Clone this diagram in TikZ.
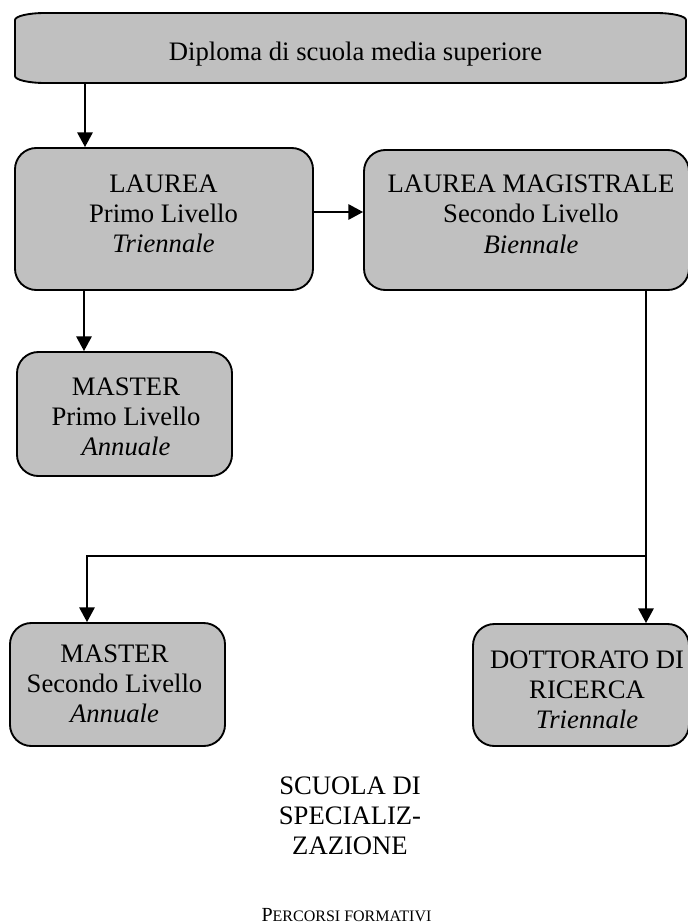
\documentclass[tikz,border=0pt]{standalone}
\usepackage{fontspec}
\setmainfont{Liberation Serif}
\usetikzlibrary{arrows.meta}
\definecolor{boxgray}{HTML}{C0C0C0}
\newcommand{\lines}[1]{\begin{tabular}[t]{@{}c@{}}#1\end{tabular}}
\tikzset{
  box/.style={draw=black, line width=1.4pt, fill=boxgray, rounded corners=16pt,
    inner sep=0pt},
  txt/.style={anchor=base, inner sep=0pt,
    font=\fontsize{20}{22.8}\selectfont},
  arr/.style={line width=1.4pt, -{Triangle[length=11pt,width=11.5pt]}},
  ln/.style={line width=1.4pt},
}
\begin{document}
\begin{tikzpicture}[x=0.75pt,y=-0.75pt]
\useasboundingbox (0,0) rectangle (688,924);
% top box with flat elliptical corners
\node[inner sep=0pt, minimum width=503.25pt, minimum height=52.5pt] (top) at (350.5,48) {};
\draw[line width=1.4pt, fill=boxgray]
  (45,13) -- (656,13) arc[start angle=90, end angle=0, x radius=22.5pt, y radius=5.25pt]
  -- (686,76) arc[start angle=0, end angle=-90, x radius=22.5pt, y radius=5.25pt]
  -- (45,83) arc[start angle=270, end angle=180, x radius=22.5pt, y radius=5.25pt]
  -- (15,20) arc[start angle=180, end angle=90, x radius=22.5pt, y radius=5.25pt]
  -- cycle;
\node[txt] (topt) at (355.5,61) {Diploma di scuola media superiore};
\node[box, minimum width=223.5pt, minimum height=106.5pt] (laurea) at (164,219) {};
\node[txt] (laureat) at (163.5,192) {\lines{LAUREA\\Primo Livello\\\textit{Triennale}}};
\node[box, minimum width=243.75pt, minimum height=105pt] (lm) at (526.5,220) {};
\node[txt] (lmt) at (531,192.5) {\lines{LAUREA MAGISTRALE\\Secondo Livello\\\textit{Biennale}}};
\node[box, minimum width=161.25pt, minimum height=93pt] (m1) at (124.5,414) {};
\node[txt] (m1t) at (126,395) {\lines{MASTER\\Primo Livello\\\textit{Annuale}}};
\node[box, minimum width=161.25pt, minimum height=92.25pt] (m2) at (117.5,684.5) {};
\node[txt] (m2t) at (114.5,662) {\lines{MASTER\\Secondo Livello\\\textit{Annuale}}};
\node[box, minimum width=162pt, minimum height=91.5pt] (dott) at (581,685) {};
\node[txt] (dottt) at (587,668) {\lines{DOTTORATO DI\\RICERCA\\\textit{Triennale}}};
\node[txt] (scuola) at (350,794) {\lines{SCUOLA DI\\SPECIALIZ-\\ZAZIONE}};
\node[anchor=base, inner sep=0pt] (perc) at (346.5,921) {{\fontsize{15}{18}\selectfont P}{\fontsize{12}{18}\selectfont ERCORSI FORMATIVI}};
\coordinate (c1) at (85,0);
\coordinate (c2) at (0,212);
\coordinate (c3) at (84,0);
\coordinate (j) at (646,556);
\coordinate (k) at (87,556);
\draw[arr] (c1 |- top.south) -- (c1 |- laurea.north);
\draw[arr] (laurea.east |- c2) -- (lm.west |- c2);
\draw[arr] (c3 |- laurea.south) -- (c3 |- m1.north);
\draw[ln] (lm.south -| j) -- (j);
\draw[arr] (j) -- (dott.north -| j);
\draw[arr] (j) -- (k) -- (k |- m2.north);
\end{tikzpicture}
\end{document}
